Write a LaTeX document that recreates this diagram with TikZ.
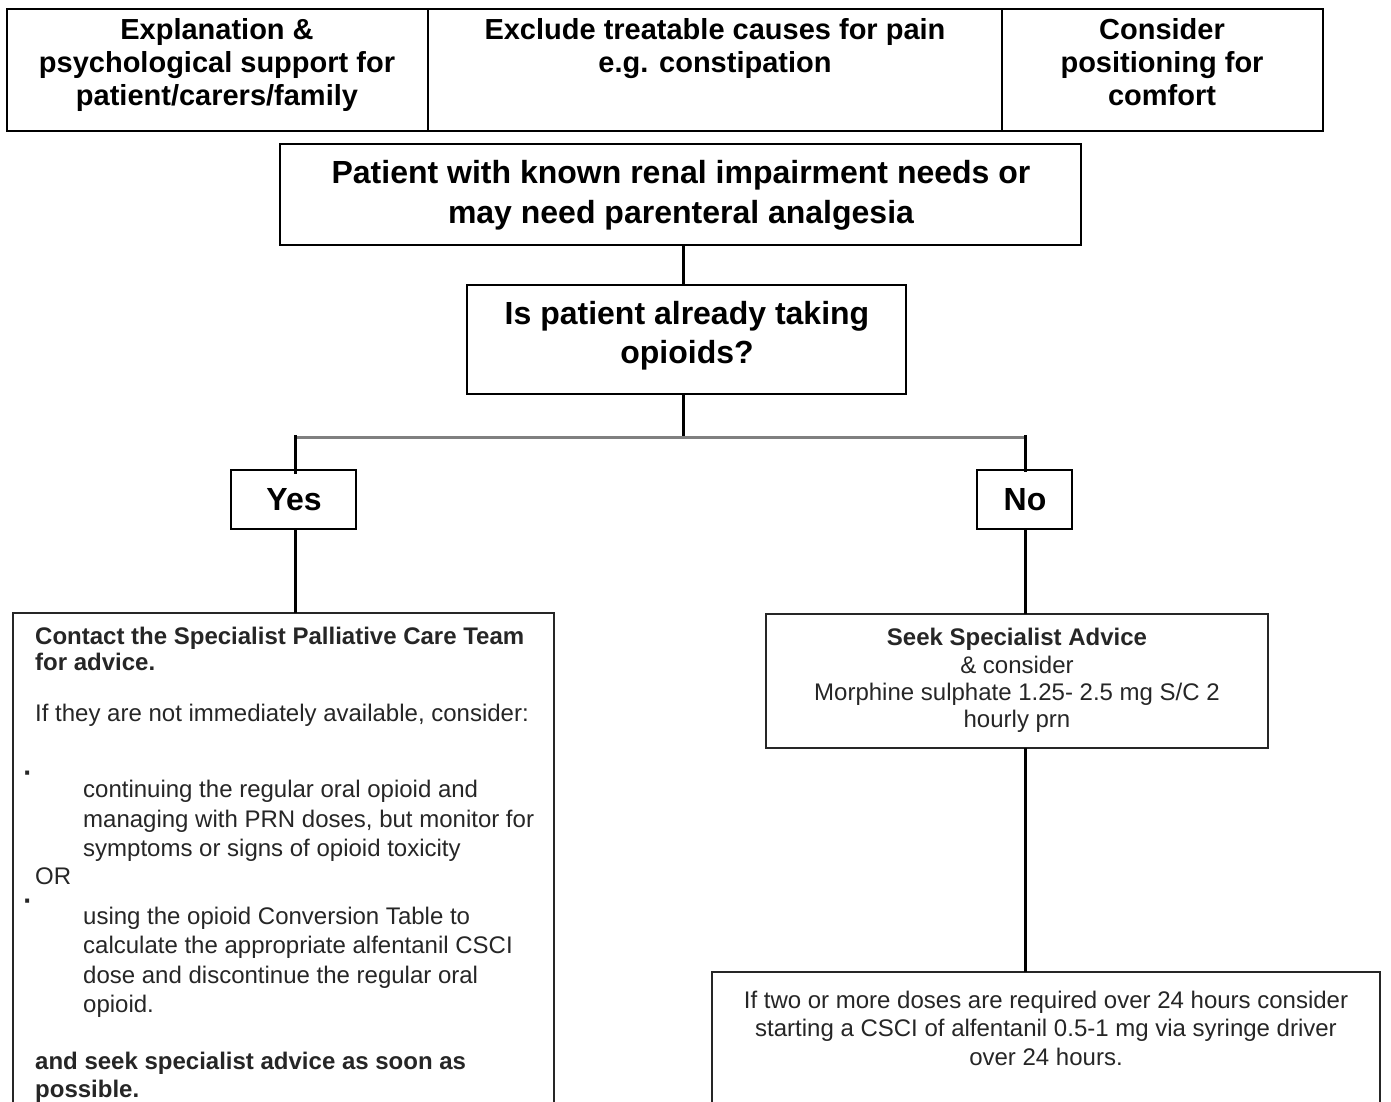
\documentclass[tikz,border=0pt]{standalone}
\usepackage{fontspec}
\setmainfont{Liberation Sans}
\newcommand\fTop{\fontsize{29}{33}\selectfont\bfseries}
\newcommand\fMid{\fontsize{32}{39}\selectfont\bfseries}
\newcommand\fLow{\fontsize{24}{29}\selectfont}
\begin{document}
\begin{tikzpicture}[x=1pt,y=-1pt,
  cell/.style={draw, line width=2.5pt, inner sep=0pt, outer sep=0pt, anchor=north west},
  box/.style={draw, line width=2pt, inner sep=0pt, outer sep=0pt, anchor=north west},
  lowbox/.style={draw=black!85, line width=1.8pt, inner sep=0pt, outer sep=0pt, anchor=north west},
  conn/.style={line width=3pt},
  greyline/.style={draw=black!50, line width=3pt},
  toptxt/.style={anchor=base, inner sep=0pt, font=\fTop},
  midtxt/.style={anchor=base, inner sep=0pt, font=\fMid},
  lowc/.style={anchor=base, inner sep=0pt, font=\fLow, text=black!85},
  lowl/.style={anchor=base west, inner sep=0pt, font=\fLow, text=black!85},
  dotmark/.style={anchor=center, inner sep=0pt, font=\fontsize{28}{28}\selectfont\bfseries, text=black!85}]
\useasboundingbox (0,0) rectangle (1391,1102);
\clip (0,0) rectangle (1391,1102);
\fill[white] (0,0) rectangle (1391,1102);

% top row
\node[cell, minimum width=421pt, minimum height=122pt] (c1) at (7,9) {};
\node[cell, minimum width=574pt, minimum height=122pt] (c2) at (428,9) {};
\node[cell, minimum width=321pt, minimum height=122pt] (c3) at (1002,9) {};
\node[toptxt] (c1a) at (217,40) {Explanation \&};
\node[toptxt] (c1b) at (217,73) {psychological support for};
\node[toptxt] (c1c) at (217,106) {patient/carers/family};
\node[toptxt] (c2a) at (715,40) {Exclude treatable causes for pain};
\node[toptxt] (c2b) at (715,73) {e.g. constipation};
\node[toptxt] (c3a) at (1162,40) {Consider};
\node[toptxt] (c3b) at (1162,73) {positioning for};
\node[toptxt] (c3c) at (1162,106) {comfort};

% main question boxes
\node[box, minimum width=801pt, minimum height=101pt] (patient) at (280,144) {};
\node[midtxt] (pa) at (681,183) {Patient with known renal impairment needs or};
\node[midtxt] (pb) at (681,223) {may need parenteral analgesia};

\node[box, minimum width=439pt, minimum height=109pt] (q) at (467,285) {};
\node[midtxt] (qa) at (687,324) {Is patient already taking};
\node[midtxt] (qb) at (687,363) {opioids?};

\node[box, minimum width=125pt, minimum height=59pt] (yes) at (231,470) {};
\node[midtxt] (yest) at (294,510) {Yes};
\node[box, minimum width=95pt, minimum height=59pt] (no) at (977,470) {};
\node[midtxt] (not) at (1025,510) {No};

% lower boxes
\node[lowbox, minimum width=541pt, minimum height=520pt] (left) at (13,613) {};
\node[lowbox, minimum width=502pt, minimum height=134pt] (seek) at (766,614) {};
\node[lowbox, minimum width=668pt, minimum height=160pt] (final) at (712,972) {};

% connectors
\coordinate (j) at (683,437);
\draw[conn] (j |- patient.south) -- (j |- q.north);
\draw[conn] (j |- q.south) -- (j);
\coordinate (jy) at (295,437);
\coordinate (jn) at (1025,437);
\draw[greyline] (jy) -- (jn);
\draw[conn] ([yshift=2pt]jy) -- ([yshift=-4pt]jy |- yes.north);
\draw[conn] ([yshift=2pt]jn) -- ([yshift=-2pt]jn |- no.north);
\draw[conn] (jy |- yes.south) -- (jy |- left.north);
\draw[conn] (jn |- no.south) -- (jn |- seek.north);
\draw[conn] (jn |- seek.south) -- (jn |- final.north);

% left box text
\node[lowl, font=\fLow\bfseries] (l1) at (35,644) {Contact the Specialist Palliative Care Team};
\node[lowl, font=\fLow\bfseries] (l2) at (35,670) {for advice.};
\node[lowl] (l3) at (35,721) {If they are not immediately available, consider:};
\node[dotmark] (b1) at (28,777) {·};
\node[lowl] (l4) at (83,797) {continuing the regular oral opioid and};
\node[lowl] (l5) at (83,827) {managing with PRN doses, but monitor for};
\node[lowl] (l6) at (83,856) {symptoms or signs of opioid toxicity};
\node[lowl] (l7) at (35,884) {OR};
\node[dotmark] (b2) at (28,905) {·};
\node[lowl] (l8) at (83,924) {using the opioid Conversion Table to};
\node[lowl] (l9) at (83,953) {calculate the appropriate alfentanil CSCI};
\node[lowl] (l10) at (83,983) {dose and discontinue the regular oral};
\node[lowl] (l11) at (83,1012) {opioid.};
\node[lowl, font=\fLow\bfseries] (l12) at (35,1069) {and seek specialist advice as soon as};
\node[lowl, font=\fLow\bfseries] (l13) at (35,1097) {possible.};

% seek box text
\node[lowc, font=\fLow\bfseries] (s1) at (1017,645) {Seek Specialist Advice};
\node[lowc] (s2) at (1017,673) {\& consider};
\node[lowc] (s3) at (1017,700) {Morphine sulphate 1.25- 2.5 mg S/C 2};
\node[lowc] (s4) at (1017,727) {hourly prn};

% final box text
\node[lowc] (f1) at (1046,1008) {If two or more doses are required over 24 hours consider};
\node[lowc] (f2) at (1046,1036) {starting a CSCI of alfentanil 0.5-1 mg via syringe driver};
\node[lowc] (f3) at (1046,1065) {over 24 hours.};
\end{tikzpicture}
\end{document}
